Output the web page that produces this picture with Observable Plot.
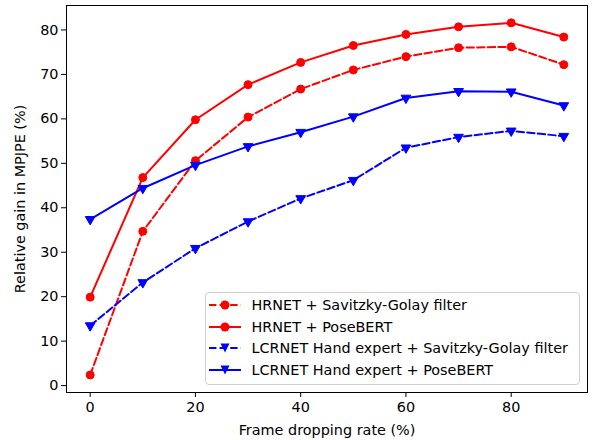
<!DOCTYPE html>
<html><head><meta charset="utf-8">
<script src="https://cdn.jsdelivr.net/npm/d3@7"></script>
<script src="https://cdn.jsdelivr.net/npm/@observablehq/plot@0.6"></script>
<style>
body{margin:0;background:#fff;}
#chart{position:relative;width:592px;height:440px;font-family:"DejaVu Sans",sans-serif;}
#legend{position:absolute;left:205px;top:292px;width:375px;height:93px;border:1px solid #d0d0d0;border-radius:4px;background:rgba(255,255,255,0.8);box-sizing:border-box;}
.row{position:absolute;left:0;height:22px;display:flex;align-items:center;font-size:14.4px;color:#000;white-space:nowrap;}
.row svg{margin-left:3px;margin-right:10.5px;}
</style></head><body><div id="chart"></div>
<script>
const rates = [0, 10, 20, 30, 40, 50, 60, 70, 80, 90];
const hrnetSG = [2.4, 34.7, 50.6, 60.4, 66.7, 71.0, 74.0, 76.0, 76.2, 72.2];
const hrnetPB = [19.9, 46.8, 59.8, 67.7, 72.7, 76.5, 79.0, 80.7, 81.6, 78.4];
const lcrnetSG = [13.5, 23.2, 30.9, 36.9, 42.1, 46.2, 53.5, 55.9, 57.3, 56.1];
const lcrnetPB = [37.4, 44.4, 49.6, 53.8, 57.0, 60.5, 64.7, 66.2, 66.1, 63.0];
const seriesNames = [
  "HRNET + Savitzky-Golay filter",
  "HRNET + PoseBERT",
  "LCRNET Hand expert + Savitzky-Golay filter",
  "LCRNET Hand expert + PoseBERT"
];
const seriesValues = [hrnetSG, hrnetPB, lcrnetSG, lcrnetPB];
const seriesColors = ["#ff0000", "#ff0000", "#0000ff", "#0000ff"];
const seriesDashed = [true, false, true, false];
const seriesSymbols = ["circle", "circle", "triangle", "triangle"];
const xTicks = [0, 20, 40, 60, 80];
const yTicks = [0, 10, 20, 30, 40, 50, 60, 70, 80];

const marks = [];
seriesNames.forEach((name, i) => {
  const data = rates.map((r, j) => ({rate: r, value: seriesValues[i][j], series: name}));
  marks.push(Plot.line(data, {x: "rate", y: "value", stroke: seriesColors[i], strokeWidth: 2,
    strokeDasharray: seriesDashed[i] ? "7.4,3.2" : null}));
  if (seriesSymbols[i] === "circle") {
    marks.push(Plot.dot(data, {x: "rate", y: "value", r: 4, fill: seriesColors[i], stroke: seriesColors[i], strokeWidth: 1}));
  } else {
    marks.push(Plot.dot(data, {x: "rate", y: "value", r: 3.6, symbol: "triangle", rotate: 180, fill: seriesColors[i], stroke: seriesColors[i], strokeWidth: 1}));
  }
});

const plot = Plot.plot({
  width: 592, height: 440,
  marginLeft: 66, marginRight: 5, marginTop: 5, marginBottom: 48,
  style: {fontFamily: "DejaVu Sans", fontSize: "14.4px", color: "#000", background: "#fff"},
  x: {domain: [-4.5, 94.5], ticks: xTicks, tickSize: 5, tickPadding: 4, label: "Frame dropping rate (%)", labelAnchor: "center", labelOffset: 42, labelArrow: "none"},
  y: {domain: [-1.55, 85.5], ticks: yTicks, tickSize: 5, tickPadding: 3, label: "Relative gain in MPJPE (%)", labelAnchor: "center", labelOffset: 52, labelArrow: "none"},
  marks: [
    ...marks,
    Plot.frame({stroke: "#000", strokeWidth: 1})
  ]
});
const chart = document.getElementById("chart");
chart.appendChild(plot);

const legend = document.createElement("div");
legend.id = "legend";
chart.appendChild(legend);
seriesNames.forEach((name, i) => {
  const row = document.createElement("div");
  row.className = "row";
  row.style.top = (0.7 + i * 21.8) + "px";
  const s = d3.create("svg").attr("width", 32).attr("height", 14);
  s.append("line").attr("x1", 0).attr("x2", 32).attr("y1", 7).attr("y2", 7)
    .attr("stroke", seriesColors[i]).attr("stroke-width", 2)
    .attr("stroke-dasharray", seriesDashed[i] ? "7.4,3.2" : null);
  if (seriesSymbols[i] === "circle") {
    s.append("circle").attr("cx", 16).attr("cy", 7).attr("r", 4.5).attr("fill", seriesColors[i]);
  } else {
    s.append("path").attr("d", "M11.5,2.5L20.5,2.5L16,11.5Z").attr("fill", seriesColors[i]);
  }
  row.appendChild(s.node());
  const t = document.createElement("span");
  t.textContent = name;
  row.appendChild(t);
  legend.appendChild(row);
});
</script></body></html>
